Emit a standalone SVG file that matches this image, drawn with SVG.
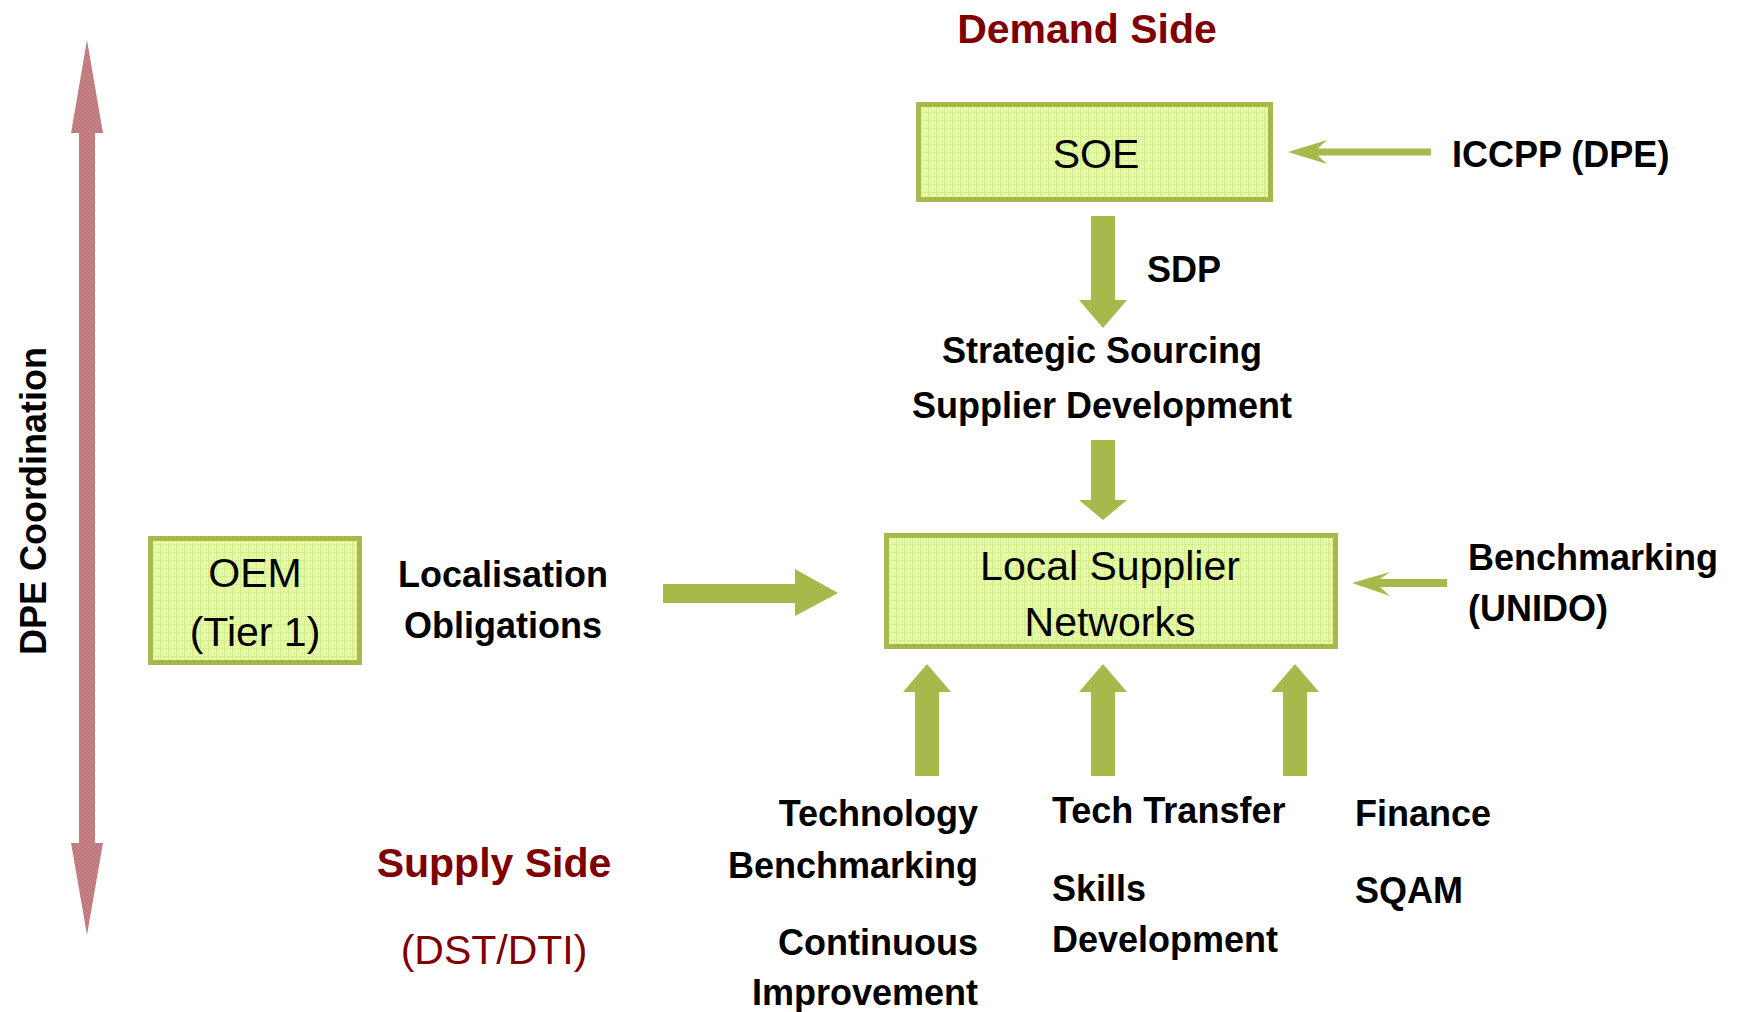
<svg xmlns="http://www.w3.org/2000/svg" width="1737" height="1012" viewBox="0 0 1737 1012">
<defs>
  <pattern id="grid" width="8" height="8" patternUnits="userSpaceOnUse">
    <rect width="8" height="8" fill="#e3f9a3"/>
    <path d="M0 0.5H8M0.5 0V8" stroke="#d4ec8c" stroke-width="1"/>
  </pattern>
  <pattern id="pink" width="4" height="4" patternUnits="userSpaceOnUse">
    <rect width="4" height="4" fill="#c68387"/>
    <rect width="2" height="2" fill="#bd787c"/>
    <rect x="2" y="2" width="2" height="2" fill="#bd787c"/>
  </pattern>
</defs>
<style>
  .box { fill: url(#grid); stroke: #a8b94b; stroke-width: 5; }
  .arrow { fill: #a8b94b; }
  .node { font-family: "Liberation Sans", Arial, sans-serif; font-size: 41px; fill: #000; }
  .lbl { font-family: "Liberation Sans", Arial, sans-serif; font-size: 36px; font-weight: bold; fill: #000; }
  .title { font-family: "Liberation Sans", Arial, sans-serif; font-size: 41px; font-weight: bold; fill: #7f0000; }
  .sub { font-family: "Liberation Sans", Arial, sans-serif; font-size: 41px; fill: #7f0000; }
</style>

<g id="connectors">
  <!-- DPE coordination double arrow -->
  <polygon fill="url(#pink)" points="87,40 103,133 95,133 95,843 103,843 87,935 71,843 79,843 79,133 71,133"/>
  <!-- SOE -> Strategic sourcing -->
  <polygon class="arrow" points="1091,216 1115,216 1115,300 1127,300 1103,328 1079,300 1091,300"/>
  <!-- Strategic sourcing -> LSN -->
  <polygon class="arrow" points="1091,440 1115,440 1115,500 1127,500 1103,520 1079,500 1091,500"/>
  <!-- ICCPP -> SOE -->
  <polygon class="arrow" points="1288,152 1327,140 1318,148.5 1431,148.5 1431,155.5 1318,155.5 1327,164"/>
  <!-- Benchmarking -> LSN -->
  <polygon class="arrow" points="1352,583 1390,572 1380,579 1447,579 1447,587 1380,587 1390,596"/>
  <!-- Localisation -> LSN -->
  <polygon class="arrow" points="663,584 795,584 795,569 838,593 795,616 795,603 663,603"/>
  <!-- up arrows -->
  <polygon class="arrow" points="915,776 939,776 939,692 951,692 927,664 903,692 915,692"/>
  <polygon class="arrow" points="1091,776 1115,776 1115,692 1127,692 1103,664 1079,692 1091,692"/>
  <polygon class="arrow" points="1283,776 1307,776 1307,692 1319,692 1295,664 1271,692 1283,692"/>
</g>

<g id="soe">
  <rect class="box" x="918.5" y="104.5" width="352" height="95"/>
  <text class="node" x="1096" y="168" text-anchor="middle" font-size="44">SOE</text>
</g>

<g id="lsn">
  <rect class="box" x="886.5" y="535.5" width="449" height="111"/>
  <text class="node" x="1110" y="580" text-anchor="middle">Local Supplier</text>
  <text class="node" x="1110" y="636" text-anchor="middle">Networks</text>
</g>

<g id="oem">
  <rect class="box" x="150.5" y="538.5" width="209" height="124"/>
  <text class="node" x="255" y="587" text-anchor="middle" font-size="44">OEM</text>
  <text class="node" x="255" y="646" text-anchor="middle" font-size="44">(Tier 1)</text>
</g>

<g id="labels">
  <text class="title" x="1087" y="43" text-anchor="middle">Demand Side</text>
  <text class="lbl" x="1452" y="167">ICCPP (DPE)</text>
  <text class="lbl" x="1147" y="282" font-size="35">SDP</text>
  <text class="lbl" x="1102" y="363" text-anchor="middle">Strategic Sourcing</text>
  <text class="lbl" x="1102" y="418" text-anchor="middle">Supplier Development</text>
  <text class="lbl" x="503" y="587" text-anchor="middle">Localisation</text>
  <text class="lbl" x="503" y="638" text-anchor="middle">Obligations</text>
  <text class="lbl" x="1468" y="570">Benchmarking</text>
  <text class="lbl" x="1468" y="621">(UNIDO)</text>
  <text class="lbl" x="978" y="826" text-anchor="end">Technology</text>
  <text class="lbl" x="978" y="878" text-anchor="end">Benchmarking</text>
  <text class="lbl" x="978" y="955" text-anchor="end">Continuous</text>
  <text class="lbl" x="978" y="1005" text-anchor="end">Improvement</text>
  <text class="lbl" x="1052" y="823">Tech Transfer</text>
  <text class="lbl" x="1052" y="901">Skills</text>
  <text class="lbl" x="1052" y="952">Development</text>
  <text class="lbl" x="1355" y="826">Finance</text>
  <text class="lbl" x="1355" y="903">SQAM</text>
  <text class="title" x="494" y="877" text-anchor="middle">Supply Side</text>
  <text class="sub" x="494" y="964" text-anchor="middle">(DST/DTI)</text>
  <text class="lbl" transform="translate(46,501) rotate(-90)" text-anchor="middle">DPE Coordination</text>
</g>
</svg>
